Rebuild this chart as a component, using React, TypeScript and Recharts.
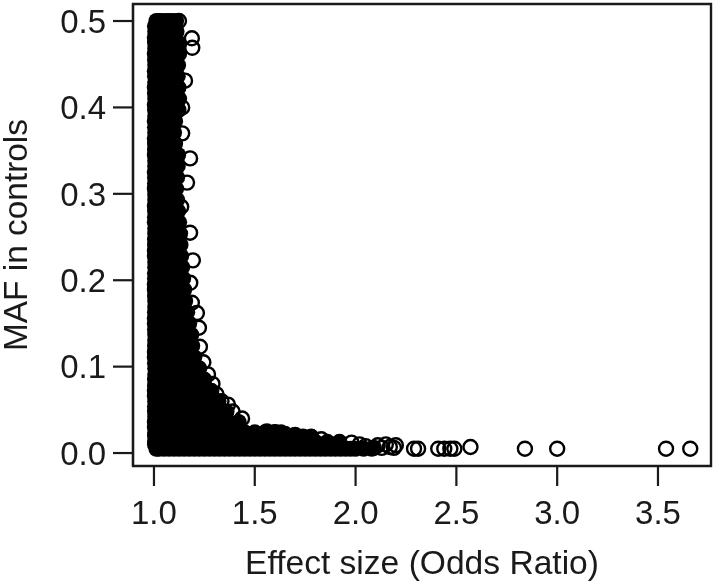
import React from "react";
import { ScatterChart, Scatter, XAxis, YAxis, ReferenceArea } from "recharts";

const xTicks = [1.0, 1.5, 2.0, 2.5, 3.0, 3.5];
const yTicks = [0.0, 0.1, 0.2, 0.3, 0.4, 0.5];
const xTitle = "Effect size (Odds Ratio)";
const yTitle = "MAF in controls";

// Overplotted mass: each row is [MAF, odds ratios at that MAF...]
const massUpper: number[][] = [
  [0.5, 1.012, 1.025, 1.04, 1.06, 1.075, 1.09, 1.11],
  [0.488, 1.006, 1.035, 1.07, 1.112],
  [0.475, 1.005, 1.04, 1.08, 1.122],
  [0.462, 1.004, 1.035, 1.075, 1.125],
  [0.449, 1.006, 1.04, 1.08, 1.12],
  [0.436, 1.005, 1.035, 1.075, 1.118],
  [0.423, 1.004, 1.04, 1.08, 1.122],
  [0.41, 1.006, 1.035, 1.075, 1.125],
  [0.397, 1.005, 1.04, 1.08, 1.122],
  [0.384, 1.004, 1.035, 1.075, 1.105],
  [0.371, 1.006, 1.04, 1.075, 1.1],
  [0.358, 1.005, 1.035, 1.07, 1.105],
  [0.345, 1.004, 1.04, 1.08, 1.12],
  [0.332, 1.006, 1.035, 1.075, 1.118],
  [0.319, 1.005, 1.04, 1.08, 1.115],
  [0.306, 1.004, 1.035, 1.07, 1.11],
  [0.293, 1.006, 1.04, 1.08, 1.115],
  [0.28, 1.005, 1.035, 1.075, 1.12],
  [0.267, 1.004, 1.04, 1.08, 1.125],
  [0.254, 1.006, 1.035, 1.075, 1.13],
  [0.241, 1.005, 1.04, 1.085, 1.132],
  [0.228, 1.004, 1.035, 1.08, 1.135],
  [0.215, 1.006, 1.04, 1.085, 1.14],
  [0.202, 1.005, 1.035, 1.09, 1.145],
];

const massLower: number[][] = [
  [0.189, 1.004, 1.04, 1.09, 1.15],
  [0.176, 1.006, 1.035, 1.09, 1.145, 1.155],
  [0.163, 1.005, 1.04, 1.095, 1.14, 1.165],
  [0.15, 1.004, 1.035, 1.09, 1.14, 1.175],
  [0.137, 1.006, 1.04, 1.095, 1.145, 1.185],
  [0.124, 1.005, 1.035, 1.09, 1.14, 1.19],
  [0.111, 1.004, 1.04, 1.095, 1.15, 1.2],
  [0.098, 1.006, 1.035, 1.09, 1.145, 1.195, 1.225],
  [0.085, 1.005, 1.04, 1.095, 1.15, 1.2, 1.25],
  [0.072, 1.004, 1.035, 1.09, 1.145, 1.2, 1.25, 1.285],
  [0.06, 1.006, 1.04, 1.095, 1.15, 1.205, 1.26, 1.32],
  [0.048, 1.005, 1.035, 1.09, 1.145, 1.2, 1.255, 1.31, 1.36],
  [0.036, 1.004, 1.04, 1.095, 1.15, 1.205, 1.26, 1.315, 1.37, 1.42],
  [0.024, 1.006, 1.05, 1.1, 1.15, 1.2, 1.25, 1.3, 1.35, 1.4, 1.45, 1.5, 1.55, 1.6, 1.63],
  [0.019, 1.45, 1.5, 1.55, 1.6, 1.65, 1.7, 1.74, 1.78],
  [0.013, 1.005, 1.05, 1.1, 1.15, 1.2, 1.25, 1.3, 1.35, 1.4, 1.45, 1.5, 1.55, 1.6, 1.65, 1.7, 1.75, 1.8, 1.86, 1.92],
  [0.005, 1.012, 1.025, 1.05, 1.075, 1.1, 1.125, 1.15, 1.175, 1.2, 1.225, 1.25, 1.275, 1.3, 1.325, 1.35, 1.375, 1.4, 1.425, 1.45, 1.475, 1.5, 1.525, 1.55, 1.575, 1.6, 1.625, 1.65, 1.675, 1.7, 1.725, 1.75, 1.775, 1.8, 1.825, 1.85, 1.875, 1.9, 1.925, 1.95, 1.975, 2.0, 2.04, 2.08],
];

// Extra points hugging the left side of the mass
const leftMAF = [0.494, 0.481, 0.468, 0.455, 0.442, 0.429, 0.416, 0.403, 0.39, 0.377, 0.364, 0.351, 0.338, 0.325, 0.312, 0.299, 0.286, 0.273, 0.26, 0.247, 0.234, 0.221, 0.208, 0.195, 0.182, 0.169, 0.156, 0.143, 0.13, 0.117, 0.104, 0.091, 0.078, 0.066, 0.054, 0.042, 0.03, 0.02, 0.01];
const leftOR = [1.005, 1.004, 1.006, 1.005, 1.004, 1.006, 1.005, 1.004, 1.006, 1.005, 1.004, 1.005, 1.006, 1.004, 1.005, 1.006, 1.004, 1.005, 1.006, 1.005, 1.004, 1.006, 1.005, 1.004, 1.005, 1.006, 1.004, 1.005, 1.006, 1.004, 1.005, 1.006, 1.005, 1.004, 1.005, 1.006, 1.004, 1.005, 1.005];

// Individually visible open circles along the edge of the mass
const edgeOR = [1.188, 1.19, 1.124, 1.154, 1.14, 1.14, 1.179, 1.164, 1.135, 1.179, 1.193, 1.18, 1.188, 1.213, 1.223, 1.228, 1.245, 1.268, 1.29, 1.31, 1.335, 1.367, 1.39, 1.437, 1.5, 1.56, 1.6, 1.65, 1.7, 1.78, 1.83, 1.92, 1.98, 2.02];
const edgeMAF = [0.48, 0.469, 0.5, 0.431, 0.4, 0.37, 0.341, 0.313, 0.285, 0.255, 0.223, 0.197, 0.174, 0.162, 0.145, 0.123, 0.105, 0.091, 0.08, 0.068, 0.06, 0.056, 0.048, 0.04, 0.022, 0.025, 0.024, 0.022, 0.021, 0.018, 0.016, 0.012, 0.012, 0.01];

const tailOR = [2.05, 2.09, 2.11, 2.13, 2.15, 2.17, 2.19, 2.2, 2.29, 2.31, 2.41, 2.44, 2.47, 2.49, 2.57, 2.84, 3.0, 3.54, 3.66];
const tailMAF = [0.008, 0.006, 0.009, 0.006, 0.01, 0.007, 0.006, 0.009, 0.005, 0.005, 0.005, 0.005, 0.005, 0.005, 0.007, 0.005, 0.005, 0.005, 0.005];

const massPoints = [
  ...[...massUpper, ...massLower].flatMap((row) => row.slice(1).map((or) => ({ x: or, y: row[0] }))),
  ...leftOR.map((or, i) => ({ x: or, y: leftMAF[i] })),
];
const openPoints = [
  ...edgeOR.map((or, i) => ({ x: or, y: edgeMAF[i] })),
  ...tailOR.map((or, i) => ({ x: or, y: tailMAF[i] })),
];

const INK = "#1a1a1a";
const FONT = "'Liberation Sans', Arial, sans-serif";
const SIZE = 33;

const Solid = (p: any) => <circle cx={p.cx} cy={p.cy} r={8} fill="#000" />;
const Open = (p: any) => (
  <circle cx={p.cx} cy={p.cy} r={7} fill="none" stroke="#000" strokeWidth={2.4} />
);

export default function App() {
  return (
    <div style={{ position: "absolute", left: 0, top: 0, width: 717, height: 585, filter: "blur(0.5px)" }}>
      <ScatterChart width={717} height={585} margin={{ top: 4, right: 6, bottom: 0, left: 0 }}>
        <XAxis
          type="number"
          dataKey="x"
          domain={[0.896, 3.763]}
          ticks={xTicks}
          tickFormatter={(v: number) => v.toFixed(1)}
          height={119}
          tickSize={20}
          tickMargin={15}
          stroke={INK}
          strokeWidth={2.2}
          interval={0}
          tick={{ fill: INK, fontSize: SIZE, fontFamily: FONT }}
          label={{ value: xTitle, position: "insideBottom", offset: 11, fill: INK, fontSize: 33.6, fontFamily: FONT }}
        />
        <YAxis
          type="number"
          dataKey="y"
          domain={[-0.015, 0.5197]}
          ticks={yTicks}
          tickFormatter={(v: number) => v.toFixed(1)}
          width={133}
          tickSize={20}
          tickMargin={7}
          stroke={INK}
          strokeWidth={2.2}
          interval={0}
          tick={{ fill: INK, fontSize: SIZE, fontFamily: FONT }}
          label={{ value: yTitle, angle: -90, position: "insideLeft", offset: 15, fill: INK, fontSize: 33.4, fontFamily: FONT, style: { textAnchor: "middle" } }}
        />
        <ReferenceArea x1={0.896} x2={3.763} y1={-0.015} y2={0.5197} fill="none" stroke={INK} strokeWidth={2.4} ifOverflow="visible" />
        <Scatter data={massPoints} shape={Solid} isAnimationActive={false} />
        <Scatter data={openPoints} shape={Open} isAnimationActive={false} />
      </ScatterChart>
    </div>
  );
}
